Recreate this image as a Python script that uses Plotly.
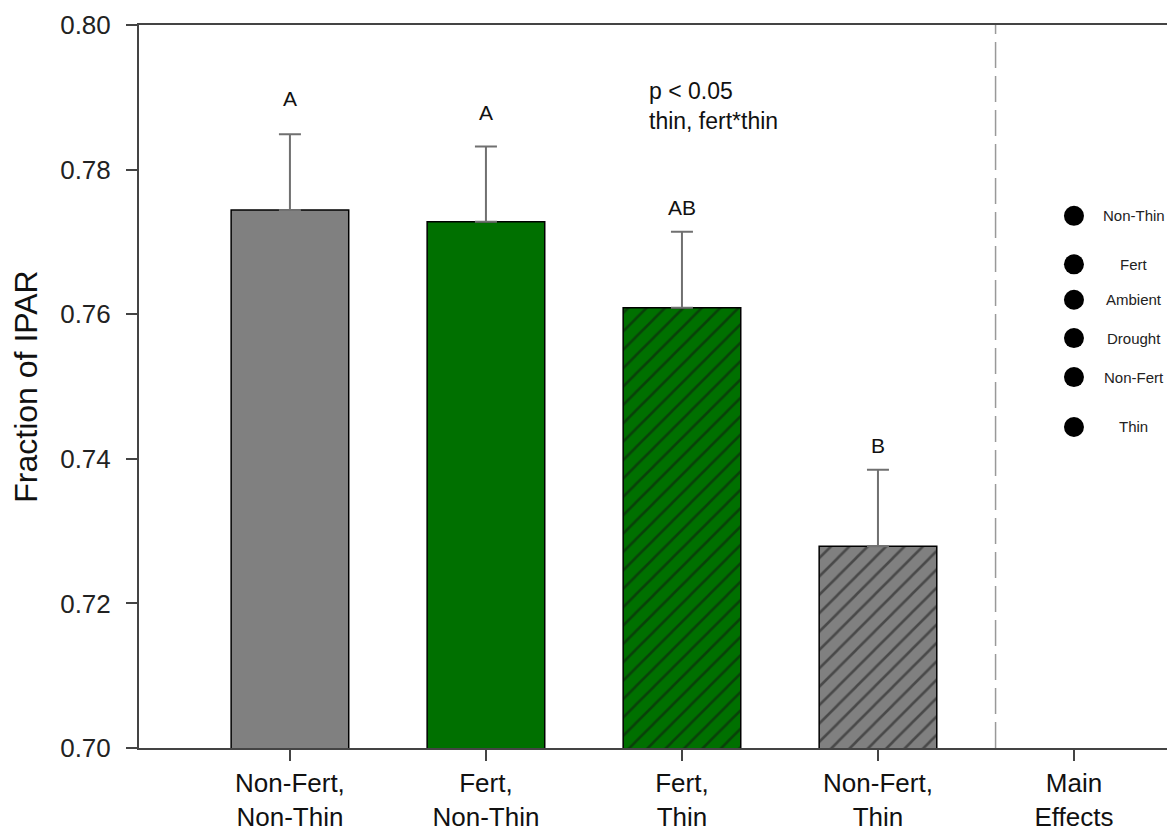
import plotly.graph_objects as go

categories = ["Non-Fert,<br>Non-Thin", "Fert,<br>Non-Thin", "Fert,<br>Thin", "Non-Fert,<br>Thin", "Main<br>Effects"]
bar_values = [0.7744, 0.7728, 0.7609, 0.7279]
bar_errors = [0.0105, 0.0104, 0.0105, 0.0106]
bar_colors = ["#808080", "#007000", "#007000", "#808080"]
bar_hatch = ["", "", "/", "/"]
letters = ["A", "A", "AB", "B"]
letter_y = [0.7898, 0.7879, 0.7748, 0.7418]

main_labels = ["Non-Thin", "Fert", "Ambient", "Drought", "Non-Fert", "Thin"]
main_values = [0.7736, 0.7669, 0.7620, 0.7567, 0.7513, 0.7444]

FONT = "Liberation Sans, Arial, sans-serif"
xs = list(range(len(categories)))

fig = go.Figure()
for i in range(4):
    fig.add_trace(go.Bar(
        x=[xs[i]], y=[bar_values[i]], width=0.6,
        marker=dict(color=bar_colors[i], line=dict(color="black", width=1.5),
                    pattern=dict(shape=bar_hatch[i], fgcolor="#111111", bgcolor=bar_colors[i],
                                 fillmode="overlay", size=13, solidity=0.2)),
        error_y=dict(type="data", array=[bar_errors[i]], arrayminus=[0], symmetric=False,
                     color="#707070", thickness=2, width=11),
        showlegend=False,
    ))
fig.add_trace(go.Scatter(
    x=[xs[4]]*len(main_values), y=main_values, mode="markers",
    marker=dict(color="black", size=20), showlegend=False,
))
for lab, v in zip(main_labels, main_values):
    fig.add_annotation(x=4.306, y=v, text=lab, showarrow=False,
                       font=dict(family=FONT, size=15, color="#222222"))
for i, (ly, t) in enumerate(zip(letter_y, letters)):
    fig.add_annotation(x=xs[i], y=ly, text=t, showarrow=False,
                       font=dict(family=FONT, size=21, color="#111111"))
fig.add_annotation(x=1.82, y=0.7888, text="p < 0.05<br>thin, fert*thin", showarrow=False,
                   xanchor="left", align="left", font=dict(family=FONT, size=23, color="#111111"))

fig.add_shape(type="line", x0=3.6, x1=3.6, y0=0.70, y1=0.80, xref="x", yref="y",
              line=dict(color="#999999", width=1.5, dash="26px,8px"))

fig.update_layout(
    width=1167, height=828,
    margin=dict(l=131, r=4, t=17, b=88),
    paper_bgcolor="white", plot_bgcolor="white",
    font=dict(family=FONT, color="#111111"),
    barmode="overlay",
)
fig.update_xaxes(
    range=[-0.77, 4.495], tickvals=xs, ticktext=categories,
    showline=True, linecolor="#444444", linewidth=2, mirror=True,
    ticks="outside", ticklen=11, tickwidth=1.5, tickcolor="#444444",
    tickfont=dict(family=FONT, size=26, color="#111111"), showgrid=False, zeroline=False,
)
fig.update_yaxes(
    range=[0.70, 0.80], tickvals=[0.70, 0.72, 0.74, 0.76, 0.78, 0.80], tickformat=".2f",
    showline=True, linecolor="#444444", linewidth=2, mirror=True, automargin="left",
    ticks="outside", ticklen=11, tickwidth=1.5, tickcolor="#444444", ticklabelstandoff=10,
    ticklabeloverflow="allow",
    tickfont=dict(family=FONT, size=26, color="#222222"), showgrid=False, zeroline=False,
    title=dict(text="Fraction of IPAR", font=dict(family=FONT, size=32, color="#111111"), standoff=18),
)
fig.write_html("out.html")
